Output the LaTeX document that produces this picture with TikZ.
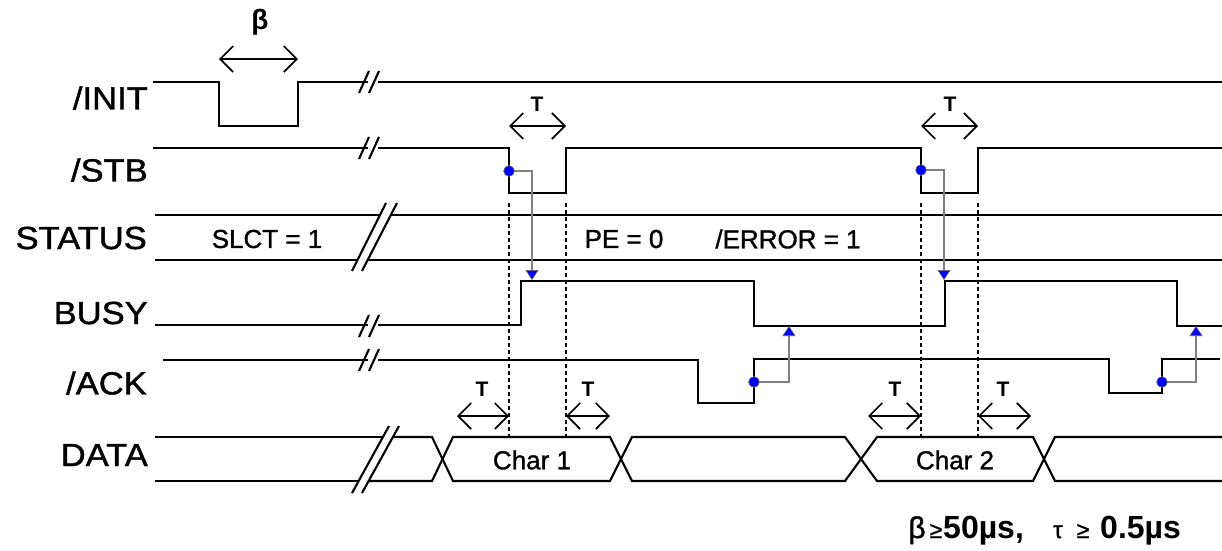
\documentclass[tikz,border=0pt]{standalone}
\usepackage{fontspec}
\setmainfont{Liberation Sans}
\newfontfamily\heavyfont[FakeBold=1.2]{Liberation Sans}
\usetikzlibrary{arrows.meta}
\begin{document}
\begin{tikzpicture}[x=1pt,y=-1pt,
  sig/.style={line width=2.1pt, line join=miter, line cap=butt},
  slash/.style={line width=2.1pt},
  vdash/.style={line width=2pt, dash pattern=on 4pt off 3pt},
  cause/.style={draw=black!50, line width=1.5pt,
    -{Triangle[length=10pt,width=13pt,color=black!60,fill=blue,line width=0.6pt]}},
  dot/.style={circle, fill=blue, draw=black!60, line width=0.5pt, inner sep=0pt, minimum size=10.5pt},
  dim/.style={line width=1.7pt,
    {Straight Barb[length=13pt,width=26pt,line width=1.7pt]}-{Straight Barb[length=13pt,width=26pt,line width=1.7pt]}},
  siglabel/.style={anchor=east, font=\heavyfont\fontsize{32}{36}\selectfont, inner sep=0pt},
  vallabel/.style={font=\heavyfont\fontsize{26}{28}\selectfont, inner sep=0pt},
  tlabel/.style={font=\fontsize{21}{22}\selectfont\bfseries, inner sep=0pt},
  brk/.pic={\draw[slash] (-9,11) -- (1,-11); \draw[slash] (1,11) -- (11,-11);}
]
\useasboundingbox (0,0) rectangle (1222,550);

% ---------- signal labels ----------
\node[siglabel] (lINIT) at (148,98) {\scalebox{1.08}[1]{/INIT}};
\node[siglabel] (lSTB) at (148,170) {\scalebox{1.08}[1]{/STB}};
\node[siglabel] (lSTATUS) at (147,238) {\scalebox{1.08}[1]{STATUS}};
\node[siglabel] (lBUSY) at (148,313) {\scalebox{1.08}[1]{BUSY}};
\node[siglabel] (lACK) at (147,383) {\scalebox{1.08}[1]{/ACK}};
\node[siglabel] (lDATA) at (148,455) {\scalebox{1.08}[1]{DATA}};

% ---------- /INIT ----------
\draw[sig] (153,82) -- (219,82) -- (219,126) -- (298,126) -- (298,82) -- (368,82);
\draw[sig] (378,82) -- (1222,82);
\pic at (368,82) {brk};

% ---------- /STB ----------
\draw[sig] (153,148) -- (368,148);
\draw[sig] (378,148) -- (509,148) -- (509,193) -- (566,193) -- (566,148) -- (921,148)
  -- (921,193) -- (978,193) -- (978,148) -- (1222,148);
\pic at (368,148) {brk};

% ---------- STATUS ----------
\draw[sig] (155,215) -- (380,215);
\draw[sig] (391,215) -- (1222,215);
\draw[sig] (155,260) -- (357,260);
\draw[sig] (368,260) -- (1222,260);
\draw[slash] (352,271) -- (386,203);
\draw[slash] (362,271) -- (397,203);

% ---------- BUSY ----------
\draw[sig] (155,325) -- (368,325);
\draw[sig] (378,325) -- (521,325) -- (521,281) -- (754,281) -- (754,326) -- (945,326)
  -- (945,281) -- (1177,281) -- (1177,326) -- (1222,326);
\pic at (368,326) {brk};

% ---------- /ACK ----------
\draw[sig] (163,360) -- (368,360);
\draw[sig] (378,360) -- (698,360) -- (698,403) -- (754,403) -- (754,359) -- (1109,359)
  -- (1109,393) -- (1162,393) -- (1162,359) -- (1220,359);
\pic at (368,360) {brk};

% ---------- DATA ----------
\draw[sig] (155,437) -- (383,437);
\draw[sig] (155,481) -- (359,481);
\draw[slash] (352,493) -- (389,426);
\draw[slash] (362,493) -- (399,426);
\draw[sig] (393,437) -- (432,437) -- (453,481) -- (610,481) -- (632,437) -- (845,437)
  -- (877,481) -- (1033,481) -- (1055,437) -- (1222,437);
\draw[sig] (369,481) -- (432,481) -- (453,437) -- (610,437) -- (632,481) -- (845,481)
  -- (877,437) -- (1033,437) -- (1055,481) -- (1222,481);

% ---------- values ----------
\node[vallabel] (slct) at (267,239) {SLCT = 1};
\node[vallabel] (pe) at (624,239) {PE = 0};
\node[vallabel] (err) at (788,239) {/ERROR = 1};
\node[vallabel] (c1) at (532,460) {Char 1};
\node[vallabel] (c2) at (955,460) {Char 2};

% ---------- dashed guides ----------
\foreach \x/\n in {509/g1,566/g2,921/g3,978/g4}{
  \coordinate (\n a) at (\x,203);
  \coordinate (\n b) at (\x,437);
  \draw[vdash] (\n a) -- (\n b);
}

% ---------- causal arrows ----------
\node[dot] (d1) at (509,171) {};
\node[dot] (d2) at (921,170) {};
\node[dot] (d3) at (754,382) {};
\node[dot] (d4) at (1162,382) {};
\coordinate (t1) at (532,280);
\coordinate (t2) at (944,280);
\coordinate (t3) at (789,326);
\coordinate (t4) at (1196,326);
\draw[cause] (d1.center) -| (t1);
\draw[cause] (d2.center) -| (t2);
\draw[cause] (d3.center) -| (t3);
\draw[cause] (d4.center) -| (t4);
\node[dot] at (d1) {};
\node[dot] at (d2) {};
\node[dot] at (d3) {};
\node[dot] at (d4) {};

% ---------- dimension arrows ----------
\coordinate (b1) at (219,59); \coordinate (b2) at (298,59);
\draw[dim] (b1) -- (b2);
\node[font=\fontsize{28}{30}\selectfont\bfseries, inner sep=0pt] (beta) at (260,22) {β};

\coordinate (s1) at (509,126); \coordinate (s2) at (566,126);
\draw[dim] (s1) -- (s2);
\node[tlabel] (ts1) at (537,104) {T};
\coordinate (s3) at (921,126); \coordinate (s4) at (978,126);
\draw[dim] (s3) -- (s4);
\node[tlabel] (ts2) at (950,104) {T};

\coordinate (a1) at (457,416); \coordinate (a2) at (509,416);
\draw[dim] (a1) -- (a2);
\node[tlabel] (ta1) at (482,389) {T};
\coordinate (a3) at (566,416); \coordinate (a4) at (610,416);
\draw[dim] (a3) -- (a4);
\node[tlabel] (ta2) at (588,389) {T};
\coordinate (a5) at (868,416); \coordinate (a6) at (921,416);
\draw[dim] (a5) -- (a6);
\node[tlabel] (ta3) at (895,389) {T};
\coordinate (a7) at (978,416); \coordinate (a8) at (1031,416);
\draw[dim] (a7) -- (a8);
\node[tlabel] (ta4) at (1003,389) {T};

% ---------- footnote ----------
\node[anchor=base, inner sep=0pt, font=\heavyfont\fontsize{30}{32}\selectfont] (nb) at (917,538) {β};
\node[anchor=base, inner sep=0pt, font=\heavyfont\fontsize{23}{24}\selectfont] (nge1) at (936,538) {≥};
\node[anchor=base west, inner sep=0pt, font=\fontsize{32}{34}\selectfont\bfseries] (nv1) at (943,538) {50µs,};
\node[anchor=base, inner sep=0pt, font=\heavyfont\fontsize{24}{24}\selectfont] (nt) at (1058,538) {τ};
\node[anchor=base, inner sep=0pt, font=\heavyfont\fontsize{23}{24}\selectfont] (nge2) at (1083,538) {≥};
\node[anchor=base west, inner sep=0pt, font=\fontsize{32}{34}\selectfont\bfseries] (nv2) at (1100,538) {0.5µs};
\end{tikzpicture}
\end{document}
